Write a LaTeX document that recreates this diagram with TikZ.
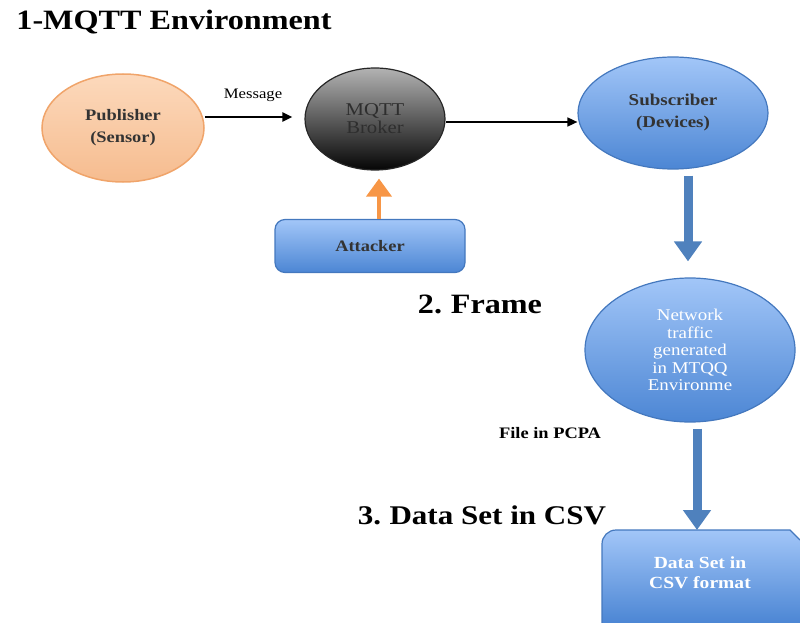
\documentclass[tikz,border=0pt]{standalone}
\usepackage{fontspec}
\setmainfont{Liberation Serif}[FakeStretch=1.15]
\usetikzlibrary{shapes.geometric,arrows.meta}

\definecolor{peachtop}{HTML}{FCD9BC}
\definecolor{peachbot}{HTML}{F6BC8F}
\definecolor{peachline}{HTML}{F0A46A}
\definecolor{bluetop}{HTML}{A2C6F8}
\definecolor{bluebot}{HTML}{4C86D4}
\definecolor{blueline}{HTML}{4478BE}
\definecolor{arrowblue}{HTML}{4F81BD}
\definecolor{attackorange}{HTML}{F79646}
\definecolor{darktext}{HTML}{333333}

\tikzset{
  heading/.style={font=\fontsize{28}{32}\selectfont\bfseries, text=black, inner sep=0pt},
  smalllabel/.style={font=\fontsize{16}{20}\selectfont\bfseries, text=black, inner sep=0pt},
  bluefill/.style={top color=bluetop, bottom color=bluebot, draw=blueline, line width=1.2pt},
  bigarrow/.style={draw=arrowblue, line width=9pt,
    -{Triangle[width=27pt,length=20pt]}},
  thinarrow/.style={draw=black, -{Triangle[width=9pt,length=10pt]}},
}

\begin{document}
\begin{tikzpicture}[x=1pt,y=-1pt]
\useasboundingbox (0,0) rectangle (800,623);

% section headings
\node[heading] (title) at (174,22) {1-MQTT Environment};
\node[heading] (frame) at (480,304) {2.\kern-2pt{} Frame};
\node[heading, font=\fontsize{27}{32}\selectfont\bfseries] (csv) at (482,515) {3.\kern-2pt{} Data Set in CSV};

% MQTT environment
\node[ellipse, minimum width=162pt, minimum height=108pt, inner sep=0pt,
      top color=peachtop, bottom color=peachbot, draw=peachline, line width=1.5pt,
      align=center, text=darktext, font=\fontsize{16}{22}\selectfont\bfseries]
  (pub) at (123,128) {Publisher\\(Sensor)};

\node[ellipse, minimum width=140pt, minimum height=102pt, inner sep=0pt,
      top color=black!30, middle color=black!52, bottom color=black!98,
      draw=black!85, line width=1.2pt,
      align=center, text=black!82, font=\fontsize{18}{18}\selectfont]
  (broker) at (375,119) {MQTT\\Broker};

\node[ellipse, minimum width=190pt, minimum height=112pt, inner sep=0pt, bluefill,
      align=center, text=darktext, font=\fontsize{16.5}{22}\selectfont\bfseries]
  (sub) at (673,113) {Subscriber\\(Devices)};

\node[rectangle, rounded corners=10pt, minimum width=190pt, minimum height=53pt,
      bluefill, text=darktext, font=\fontsize{16}{20}\selectfont\bfseries]
  (attacker) at (370,246) {Attacker};

\node[font=\fontsize{14.5}{18}\selectfont, inner sep=0pt] (msg) at (253,95) {Message};

\draw[thinarrow, line width=2.5pt] (pub.east |- 0,117) -- ([xshift=-12pt]broker.west |- 0,117);
\draw[thinarrow, line width=1.6pt] (broker.east |- 0,122) -- (sub.west |- 0,122);
\draw[draw=attackorange, line width=4pt, -{Triangle[width=25pt,length=18pt]}]
  ([xshift=9pt]attacker.north) -- ([xshift=4pt,yshift=-8pt]broker.south);

% frame stage
\node[ellipse, minimum width=210pt, minimum height=144pt, inner sep=0pt, bluefill,
      align=center, text=white, font=\fontsize{16.5}{17.5}\selectfont]
  (net) at (690,350) {Network\\traffic\\generated\\in MTQQ\\Environme};

\draw[bigarrow] ([xshift=15pt,yshift=-6pt]sub.south) -- ([xshift=-2pt,yshift=16pt]net.north);

\node[smalllabel] (pcpa) at (550,433) {File in PCPA};

% data set stage
\shade[top color=bluetop, bottom color=bluebot]
  (602,623) -- (602,544) arc[start angle=180,end angle=270,radius=14] -- (790,530) -- (800,540) -- (800,623) -- cycle;
\draw[blueline, line width=1.2pt]
  (602,623) -- (602,544) arc[start angle=180,end angle=270,radius=14] -- (790,530) -- (800,540);
\node[align=center, text=white, font=\fontsize{17}{20}\selectfont\bfseries, inner sep=0pt]
  (dataset) at (700,573) {Data Set in\\CSV format};
\coordinate (boxtop) at (697,530);

\draw[bigarrow] ([xshift=7pt,yshift=-6pt]net.south) -- (boxtop);
\end{tikzpicture}
\end{document}
